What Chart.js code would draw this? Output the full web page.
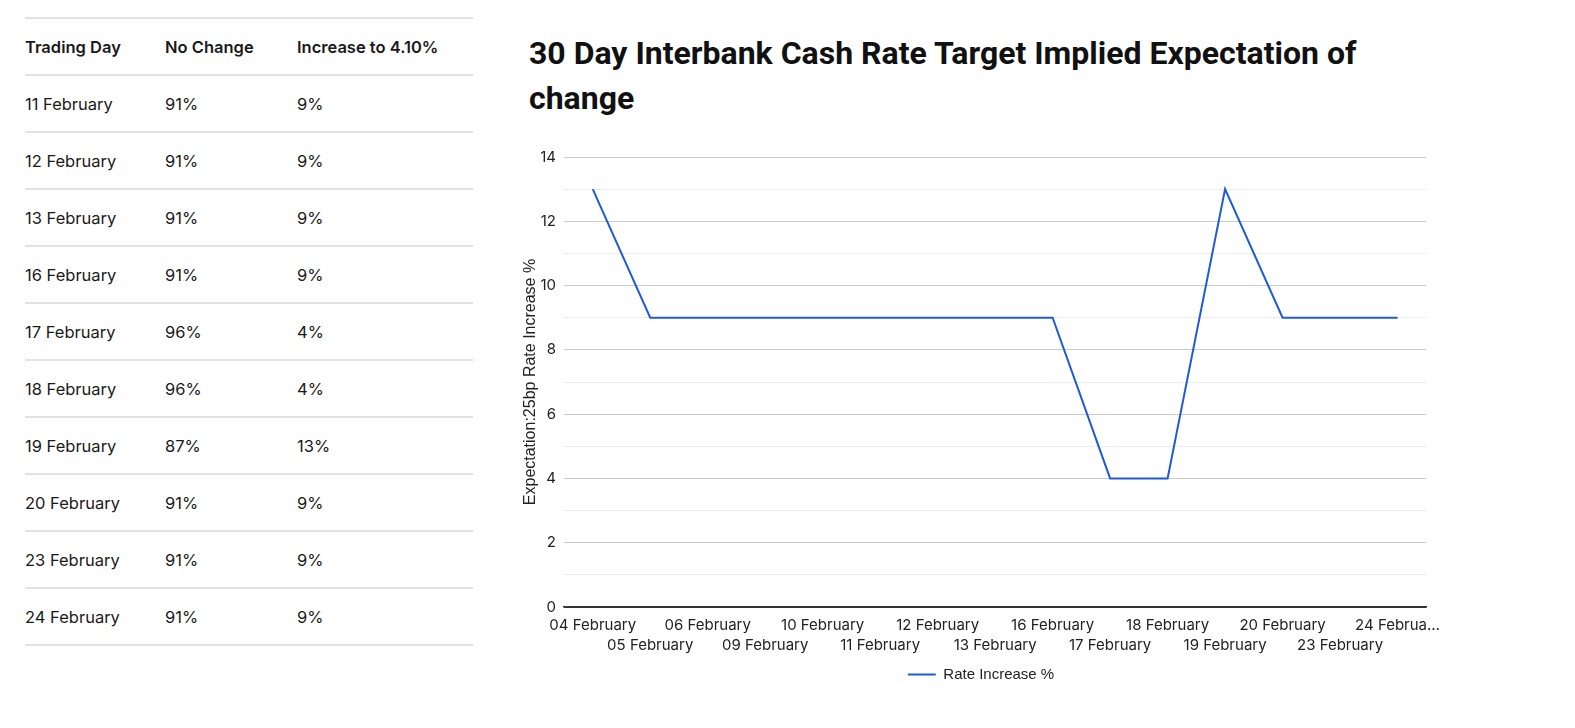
<!DOCTYPE html>
<html>
<head>
<meta charset="utf-8">
<script src="https://cdn.jsdelivr.net/npm/chart.js@4"></script>
<style>
    body { margin: 0; background: #fff; font-family: Inter, "Noto Sans", sans-serif; color: #1a1a1a; }
    #table-wrap { position: absolute; left: 25px; top: 17px; width: 448px; }
    table { border-collapse: collapse; width: 100%; }
    th, td { text-align: left; padding: 0; height: 55px; border-top: 2px solid #e2e2e2; border-bottom: 2px solid #e2e2e2; }
    th { font-size: 16.5px; font-weight: 600; }
    td { font-size: 16.5px; font-weight: 400; }
    th:nth-child(1), td:nth-child(1) { width: 140px; }
    th:nth-child(2), td:nth-child(2) { width: 132px; }
    h2 { position: absolute; left: 529px; top: 31px; width: 850px; margin: 0; font-family: Roboto, sans-serif; font-weight: 700; font-size: 32px; line-height: 45px; color: #111; }
    #chart-wrap { position: absolute; left: 503px; top: 140px; width: 938px; height: 552px; }
</style>
</head>
<body>
<div id="table-wrap">
    <table>
        <thead><tr><th>Trading Day</th><th>No Change</th><th>Increase to 4.10%</th></tr></thead>
        <tbody id="rows"></tbody>
    </table>
</div>
<h2>30 Day Interbank Cash Rate Target Implied Expectation of change</h2>
<div id="chart-wrap"><canvas id="rateChart"></canvas></div>
<script>
// table
const tableDays = ['11 February', '12 February', '13 February', '16 February', '17 February', '18 February', '19 February', '20 February', '23 February', '24 February'];
const noChange = ['91%', '91%', '91%', '91%', '96%', '96%', '87%', '91%', '91%', '91%'];
const increaseTo410 = ['9%', '9%', '9%', '9%', '4%', '4%', '13%', '9%', '9%', '9%'];

// chart
const days = ['04 February', '05 February', '06 February', '09 February', '10 February', '11 February', '12 February', '13 February', '16 February', '17 February', '18 February', '19 February', '20 February', '23 February', '24 Februa\u2026'];
const rateIncrease = [13, 9, 9, 9, 9, 9, 9, 9, 9, 4, 4, 13, 9, 9, 9];
const yTicks = [0, 2, 4, 6, 8, 10, 12, 14];

document.addEventListener('DOMContentLoaded', function() {
    const tbody = document.getElementById('rows');
    tableDays.forEach(function(d, i) {
        const tr = document.createElement('tr');
        [d, noChange[i], increaseTo410[i]].forEach(function(v) {
            const td = document.createElement('td');
            td.textContent = v;
            tr.appendChild(td);
        });
        tbody.appendChild(tr);
    });

    const ctx = document.getElementById('rateChart');
    new Chart(ctx, {
        type: 'line',
        data: {
            labels: days,
            datasets: [{
                label: 'Rate Increase %',
                data: rateIncrease,
                borderColor: '#1f5bd4',
                backgroundColor: '#1f5bd4',
                borderWidth: 2,
                pointRadius: 0,
                tension: 0
            }]
        },
        options: {
            responsive: true,
            maintainAspectRatio: false,
            animation: false,
            layout: { padding: { top: 10, left: 18, right: 0 } },
            scales: {
                x: {
                    offset: true,
                    grid: { display: false },
                    border: { color: '#333', width: 1.5 },
                    ticks: {
                        color: '#222',
                        font: { family: 'Inter', size: 15, lineHeight: 1.3 },
                        maxRotation: 0,
                        autoSkip: false,
                        padding: 1,
                        callback: function(v, i) {
                            return i % 2 === 1 ? ['', days[i]] : days[i];
                        }
                    }
                },
                y: {
                    min: 0,
                    max: 14,
                    afterFit: function(scale) { scale.width = 43; },
                    border: { display: false },
                    grid: {
                        drawTicks: false,
                        color: function(c) {
                            if (c.tick.value === 0) return '#333';
                            return c.tick.value % 2 === 0 ? '#cccccc' : '#ececec';
                        }
                    },
                    ticks: {
                        stepSize: 1,
                        padding: 8,
                        color: '#222',
                        font: { family: 'Inter', size: 15 },
                        callback: function(v) {
                            return yTicks.includes(v) ? String(v) : '';
                        }
                    },
                    title: {
                        display: true,
                        text: 'Expectation:25bp Rate Increase %',
                        color: '#222',
                        font: { family: 'Liberation Sans', size: 16 },
                        padding: 0
                    }
                }
            },
            plugins: {
                legend: {
                    position: 'bottom',
                    labels: {
                        usePointStyle: true,
                        pointStyle: 'line',
                        pointStyleWidth: 28,
                        color: '#222',
                        font: { family: 'Liberation Sans', size: 15 },
                        padding: 11
                    }
                },
                tooltip: { enabled: false }
            }
        }
    });
});
</script>
</body>
</html>
